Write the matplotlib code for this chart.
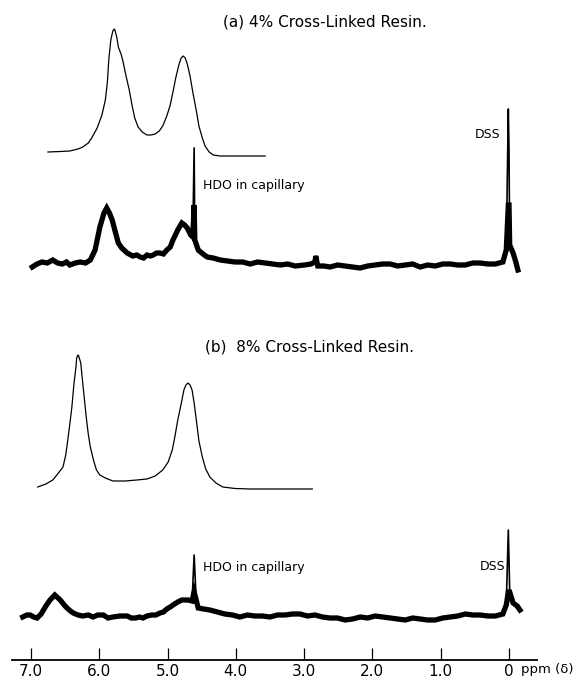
import numpy as np
import matplotlib
matplotlib.use('Agg')
import matplotlib.pyplot as plt

# -------------------------------------------------------------------------
# spectra: chemical shift (ppm) and intensity (arb.)

# (a) 4% cross-linked resin, expanded smooth trace
a_fit_ppm = [6.75, 6.57, 6.43, 6.31, 6.24, 6.16, 6.11, 6.03, 5.96, 5.91, 5.88, 5.86,
             5.83, 5.80, 5.78, 5.77, 5.74, 5.72, 5.68, 5.65, 5.61, 5.56, 5.52,
             5.48, 5.43, 5.37, 5.30, 5.24, 5.18, 5.12, 5.07, 5.01, 4.96, 4.92,
             4.88, 4.83, 4.80, 4.77, 4.74, 4.71, 4.67, 4.63, 4.58, 4.54, 4.49,
             4.45, 4.39, 4.33, 4.23, 3.57]
a_fit_int = [4, 4.5, 5, 7, 9, 13, 18, 28, 41, 56, 74, 96,
             116, 125, 127, 126, 118, 109, 102, 94, 81, 66, 51,
             38, 29, 24, 21, 21, 22, 25, 30, 40, 51, 64,
             78, 92, 98, 100, 98, 92, 80, 64, 46, 30, 18,
             10, 4, 1, 0, 0]

# (a) observed trace
a_obs_ppm = [6.98, 6.91, 6.84, 6.76, 6.68, 6.61, 6.54, 6.48, 6.43, 6.35, 6.28, 6.20,
             6.13, 6.06, 5.99, 5.93, 5.89, 5.85, 5.81, 5.76, 5.72, 5.67, 5.59,
             5.51, 5.45, 5.40, 5.35, 5.30, 5.25, 5.21, 5.16, 5.11, 5.06, 5.01,
             4.96, 4.92, 4.85, 4.79, 4.75, 4.71, 4.66, 4.63, 4.61, 4.60, 4.55,
             4.48, 4.42, 4.33, 4.23, 4.12, 4.01, 3.90, 3.79, 3.68, 3.57, 3.46,
             3.35, 3.24, 3.13, 2.99, 2.90, 2.84, 2.83, 2.80, 2.71, 2.62, 2.51,
             2.40, 2.29, 2.18, 2.07, 1.96, 1.85, 1.74, 1.63, 1.52, 1.41, 1.30,
             1.19, 1.08, 0.97, 0.86, 0.75, 0.64, 0.53, 0.42, 0.31, 0.20, 0.09,
             0.04, 0.01, 0.00, -0.01, -0.06, -0.10, -0.13]
a_obs_int = [-2, 1, 3, 2, 5, 2, 1, 3, 0, 2, 3, 2,
             5, 15, 38, 52, 57, 52, 45, 32, 22, 17, 12,
             9, 10, 8, 7, 10, 9, 10, 12, 12, 11, 15,
             18, 25, 35, 42, 40, 37, 30, 28, 117, 25, 15,
             11, 8, 7, 5, 4, 3, 3, 1, 3, 2, 1,
             0, 1, -1, 0, 1, 3, 9, -1, -1, -2, 0,
             -1, -2, -3, -1, 0, 1, 1, -1, 0, 1, -2,
             0, -1, 1, 1, 0, 0, 2, 2, 1, 1, 3,
             15, 156, 115, 20, 12, 3, -5]

# (b) 8% cross-linked resin, expanded smooth trace
b_fit_ppm = [6.90, 6.78, 6.68, 6.62, 6.53, 6.49, 6.46, 6.43, 6.40, 6.37, 6.34,
             6.33, 6.31, 6.30, 6.27, 6.25, 6.22, 6.19, 6.16, 6.13, 6.08, 6.04,
             5.99, 5.91, 5.80, 5.62, 5.45, 5.30, 5.18, 5.07, 4.99, 4.93, 4.89,
             4.85, 4.80, 4.76, 4.73, 4.70, 4.67, 4.64, 4.61, 4.58, 4.54, 4.49,
             4.44, 4.38, 4.29, 4.19, 4.01, 3.79, 2.88]
b_fit_int = [2, 5, 9, 14, 22, 34, 49, 65, 82, 105, 122,
             131, 134, 133, 126, 112, 92, 72, 55, 42, 28, 19,
             14, 11, 8, 8, 9, 10, 13, 19, 27, 39, 53,
             69, 85, 99, 104, 106, 104, 99, 86, 70, 48, 32,
             20, 12, 6, 2, 0.5, 0, 0]

# (b) observed trace
b_obs_ppm = [7.12, 7.06, 7.01, 6.96, 6.91, 6.85, 6.79, 6.72, 6.65, 6.57, 6.50,
             6.44, 6.38, 6.31, 6.24, 6.16, 6.09, 6.02, 5.94, 5.87, 5.80, 5.70,
             5.59, 5.53, 5.47, 5.41, 5.36, 5.30, 5.23, 5.17, 5.11, 5.06, 5.01,
             4.96, 4.92, 4.85, 4.79, 4.74, 4.70, 4.64, 4.61, 4.58, 4.55, 4.47,
             4.38, 4.27, 4.16, 4.05, 3.94, 3.83, 3.72, 3.61, 3.50, 3.39, 3.28,
             3.17, 3.06, 2.95, 2.84, 2.73, 2.62, 2.51, 2.40, 2.29, 2.18, 2.07,
             1.96, 1.85, 1.74, 1.63, 1.52, 1.41, 1.30, 1.19, 1.08, 0.97, 0.86,
             0.75, 0.64, 0.53, 0.42, 0.31, 0.20, 0.09, 0.04, 0.01, -0.01,
             -0.06, -0.12, -0.16]
b_obs_int = [0, 2, 2, 0, -1, 3, 10, 17, 22, 17, 11,
             7, 4, 2, 1, 2, 0, 2, 2, -1, 0, 1,
             1, -1, -1, 0, -1, 1, 2, 2, 4, 5, 8,
             10, 12, 15, 17, 17, 17, 16, 62, 17, 9, 8,
             7, 5, 3, 2, 0, 2, 1, 1, 0, 2, 2,
             3, 3, 1, 2, 0, -1, -1, -3, -2, 0, -1,
             1, 0, -1, -2, -3, -1, -2, -3, -3, -1, 0,
             1, 3, 2, 2, 1, 1, 3, 12, 87, 27,
             14, 11, 7]

tick_ppm = [7, 6, 5, 4, 3, 2, 1, 0]
tick_labels = ['7.0', '6.0', '5.0', '4.0', '3.0', '2.0', '1.0', '0']

# -------------------------------------------------------------------------
# layout: figure pixel rows of each baseline

H = 682.
PX_PER_PPM = 68.3
ZERO_PX = 509.

def row(px):
    return H - px

def col(px):
    return (ZERO_PX - px) / PX_PER_PPM

base_a_fit = row(156)
base_a_obs = row(265)
base_b_fit = row(489)
base_b_obs = row(617)
axis_y = row(660)

fig = plt.figure(figsize=(5.77, 6.82), dpi=100)
ax = fig.add_axes([0, 0, 1, 1])
ax.set_xlim(col(0), col(577))
ax.set_ylim(0, H)

ax.plot(a_fit_ppm, base_a_fit + np.array(a_fit_int), 'k-', lw=0.9)
ax.plot(b_fit_ppm, base_b_fit + np.array(b_fit_int), 'k-', lw=0.9)

# noisy observed traces: thick band, with the sharp HDO / DSS lines thin
for ppm, ints, base, cap in [(a_obs_ppm, a_obs_int, base_a_obs, 60),
                             (b_obs_ppm, b_obs_int, base_b_obs, 25)]:
    ints = np.array(ints, dtype=float)
    ax.plot(ppm, base + np.minimum(ints, cap), 'k-', lw=3.8,
            solid_joinstyle='miter')
    ax.plot(ppm, base + ints, 'k-', lw=1.2)

font = dict(family='DejaVu Sans', color='k')
ax.text(col(223), row(22), '(a) 4% Cross-Linked Resin.', fontsize=11,
        ha='left', va='center', **font)
ax.text(col(205), row(347), '(b)  8% Cross-Linked Resin.', fontsize=11,
        ha='left', va='center', **font)
ax.text(col(203), row(185), 'HDO in capillary', fontsize=9, ha='left', va='center', **font)
ax.text(col(203), row(567), 'HDO in capillary', fontsize=9, ha='left', va='center', **font)
ax.text(col(500), row(134), 'DSS', fontsize=9, ha='right', va='center', **font)
ax.text(col(505), row(567), 'DSS', fontsize=9, ha='right', va='center', **font)

# ppm scale
for s in ['top', 'left', 'right']:
    ax.spines[s].set_visible(False)
ax.spines['bottom'].set_position(('data', axis_y))
ax.spines['bottom'].set_bounds(col(537), col(12))
ax.spines['bottom'].set_linewidth(1.3)
ax.set_yticks([])
ax.set_xticks(tick_ppm)
ax.set_xticklabels(tick_labels, fontsize=11, family='DejaVu Sans')
ax.tick_params(axis='x', direction='in', length=8.6, width=0.9, pad=3)
ax.text(col(521), row(670), 'ppm (δ)', fontsize=9.5,
        ha='left', va='center', **font)

fig.savefig('out.png', dpi=100)
